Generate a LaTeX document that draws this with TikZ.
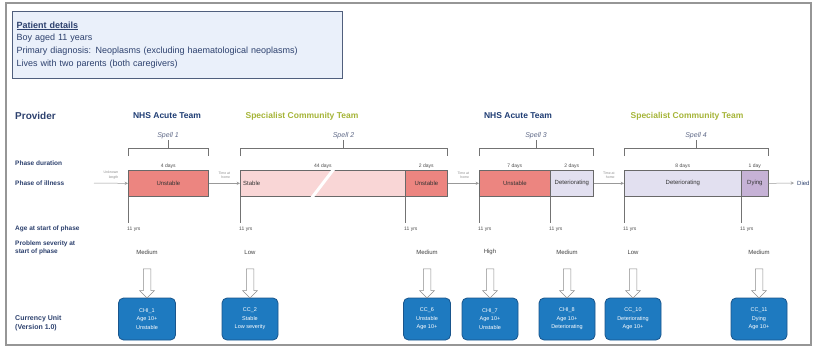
\documentclass[tikz,border=0pt]{standalone}
\usepackage{fontspec}
\setmainfont{Liberation Sans}
\usepackage{xcolor}
\usepackage{tikz}
\usetikzlibrary{shapes,arrows,positioning,calc}

\definecolor{framegrey}{RGB}{150,150,150}
\definecolor{patientfill}{RGB}{234,240,250}
\definecolor{patientline}{RGB}{80,95,125}
\definecolor{labelblue}{RGB}{45,65,110}
\definecolor{nhsblue}{RGB}{30,60,115}
\definecolor{specgreen}{RGB}{165,180,55}
\definecolor{spellgrey}{RGB}{95,105,135}
\definecolor{unstablered}{RGB}{236,133,128}
\definecolor{stablepink}{RGB}{249,214,214}
\definecolor{detlavender}{RGB}{226,224,240}
\definecolor{dyingpurple}{RGB}{198,178,214}
\definecolor{boxgrey}{RGB}{105,105,105}
\definecolor{cublue}{RGB}{30,122,192}
\definecolor{cuedge}{RGB}{25,85,140}

\newcommand{\fsz}[1]{\fontsize{#1}{#1}\selectfont}

\begin{document}
\begin{tikzpicture}[
    x=1pt, y=-1pt,
    patient/.style={rectangle, anchor=north west, draw=patientline, line width=1pt, fill=patientfill, text width=322pt, minimum height=67pt, align=left, text=labelblue, font=\fontsize{9}{12.8}\selectfont, inner xsep=4pt},
    rowlabel/.style={anchor=west, inner sep=0pt, align=left, text=labelblue, font=\fontsize{6.5}{8.5}\selectfont\bfseries},
    team/.style={font=\fsz{8.5}\bfseries, inner sep=0pt},
    spell/.style={font=\fsz{7}\itshape, text=spellgrey, inner sep=1pt},
    bracket/.style={draw=black!55, line width=0.6pt},
    dur/.style={font=\fsz{5}, text=black!70, anchor=south, inner sep=1.5pt},
    phase/.style={rectangle, draw=boxgrey, line width=0.7pt, anchor=north west, minimum height=26pt, inner sep=0pt, font=\fsz{6}, text=black!80},
    timeline/.style={draw=black!40, line width=0.5pt},
    gaptext/.style={font=\fontsize{3.5}{4.5}\selectfont, text=black!45, align=right, inner sep=0pt},
    tick/.style={draw=black!55, line width=0.5pt},
    age/.style={font=\fsz{5}, text=black!70, anchor=west, inner sep=0pt},
    severity/.style={font=\fsz{6}, text=black!75, inner sep=0pt},
    hollow/.style={single arrow, draw=black!45, fill=white, line width=0.5pt, shape border rotate=270, minimum height=29pt, minimum width=14pt, single arrow head extend=3.5pt, inner sep=3.5pt},
    currency/.style={rectangle, rounded corners=5pt, draw=cuedge, line width=0.8pt, fill=cublue, text=white, align=center, minimum height=42pt, font=\fontsize{5.5}{8.5}\selectfont, inner sep=1pt},
    arrow/.style={->,>=stealth}
]
\useasboundingbox (0,0) rectangle (814,349);
\draw[framegrey, line width=1.2pt] (6,3) rectangle (811,345);

% patient box
\node[patient] (patient) at (12,11) {\underline{\textbf{Patient details}}\\Boy aged 11 years\\Primary diagnosis: Neoplasms (excluding haematological neoplasms)\\Lives with two parents (both caregivers)};

% row labels
\node[rowlabel, font=\fsz{10}\bfseries] (provider) at (15,116) {Provider};
\node[rowlabel] (durlabel) at (15,163) {Phase duration};
\node[rowlabel] (illlabel) at (15,183) {Phase of illness};
\node[rowlabel] (agelabel) at (15,229) {Age at start of phase};
\node[rowlabel] (sevlabel) at (15,248) {Problem severity at\\start of phase};
\node[rowlabel, font=\fontsize{7}{9.5}\selectfont\bfseries] (culabel) at (15,323) {Currency Unit\\(Version 1.0)};

% providers
\node[team, text=nhsblue] (team1) at (167,116) {NHS Acute Team};
\node[team, text=specgreen] (team2) at (302,116) {Specialist Community Team};
\node[team, text=nhsblue] (team3) at (518,116) {NHS Acute Team};
\node[team, text=specgreen] (team4) at (687,116) {Specialist Community Team};

% spells
\foreach \n/\a/\b in {1/128/208, 2/240/447, 3/479/593, 4/624/768}{
    \node[spell] (spell\n) at ({(\a+\b)/2},136) {Spell \n};
    \draw[bracket] (\a,156) |- (\b,148) -- (\b,156);
    \draw[bracket] (spell\n.south) -- (spell\n.south |- 0,148);
}

% phases of illness
\node[phase, fill=unstablered, minimum width=80pt] (p1) at (128,170) {Unstable};
\node[phase, fill=stablepink, minimum width=165pt] (p2) at (240,170) {};
\node[phase, fill=unstablered, minimum width=42pt] (p3) at (405,170) {Unstable};
\node[phase, fill=unstablered, minimum width=71pt] (p4) at (479,170) {Unstable};
\node[phase, fill=detlavender, minimum width=43pt] (p5) at (550,170) {Deteriorating};
\node[phase, fill=detlavender, minimum width=117pt] (p6) at (624,170) {Deteriorating};
\node[phase, fill=dyingpurple, minimum width=27pt] (p7) at (741,170) {Dying};
\node[font=\fsz{6}, text=black!80, anchor=west, inner sep=0pt] (p2txt) at ($(p2.west)+(3,0)$) {Stable};
\draw[white, line width=3pt] ($(p2.south)+(-11,1)$) -- ($(p2.north)+(11,-1)$);

% durations
\node[dur] (d1) at (p1.north) {4 days};
\node[dur] (d2) at (p2.north) {44 days};
\node[dur] (d3) at (p3.north) {2 days};
\node[dur] (d4) at (p4.north) {7 days};
\node[dur] (d5) at (p5.north) {2 days};
\node[dur] (d6) at (p6.north) {8 days};
\node[dur] (d7) at (p7.north) {1 day};

% timeline between spells
\coordinate (tstart) at (94,183);
\node[font=\fsz{6}, text=labelblue, anchor=west, inner sep=0pt] (died) at (797,183) {Died};
\draw[timeline, arrow] (tstart) -- (p1.west);
\draw[timeline, arrow] (p1.east) -- (p2.west);
\draw[timeline, arrow] (p3.east) -- (p4.west);
\draw[timeline, arrow] (p5.east) -- (p6.west);
\draw[timeline, arrow] (p7.east) -- ($(died.west)+(-3,0)$);
\node[gaptext] (g1) at ($(tstart)!0.5!(p1.west)+(0,-8)$) {Unknown\\length};
\node[gaptext] (g2) at ($(p1.east)!0.5!(p2.west)+(0,-8)$) {Time at\\home};
\node[gaptext] (g3) at ($(p3.east)!0.5!(p4.west)+(0,-8)$) {Time at\\home};
\node[gaptext] (g4) at ($(p5.east)!0.5!(p6.west)+(0,-8)$) {Time at\\home};

% age, severity and currency units
\foreach \bx/\cx/\w/\sev/\cu [count=\i] in {
    p1/147/57/Medium/{CHI\_1\\Age 10+\\Unstable},
    p2/250/56/Low/{CC\_2\\Stable\\Low severity},
    p3/427/47/Medium/{CC\_6\\Unstable\\Age 10+},
    p4/490/56/High/{CHI\_7\\Age 10+\\Unstable},
    p5/567/56/Medium/{CHI\_8\\Age 10+\\Deteriorating},
    p6/633/56/Low/{CC\_10\\Deteriorating\\Age 10+},
    p7/759/56/Medium/{CC\_11\\Dying\\Age 10+}}{
    \node[age] (age\i) at ($(\bx.south west)+(-1,33)$) {11 yrs};
    \draw[tick] (\bx.south west) -- ($(\bx.south west)+(0,26)$);
    \node[severity] (sev\i) at (\cx,252) {\sev};
    \node[currency, minimum width=\w pt] (cu\i) at (\cx,319) {\cu};
    \node[hollow] (arr\i) at ($(cu\i.north)+(0,-16)$) {};
}

\end{tikzpicture}
\end{document}
